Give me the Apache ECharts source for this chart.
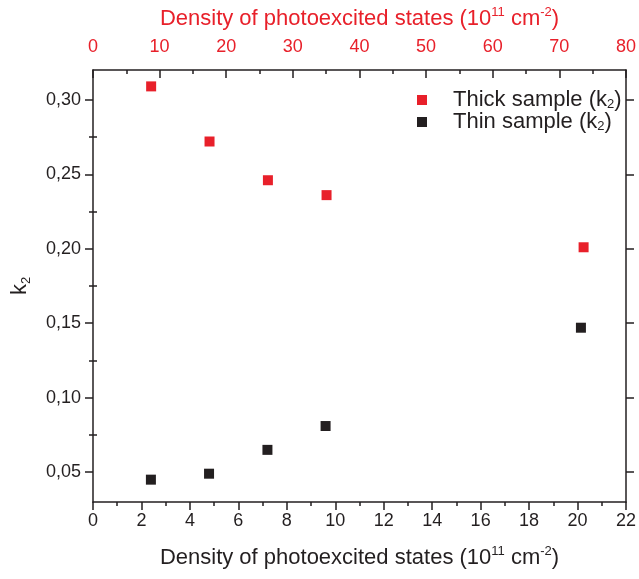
<!DOCTYPE html>
<html>
<head>
<meta charset="utf-8">
<script src="https://cdn.jsdelivr.net/npm/echarts@6/dist/echarts.min.js"></script>
<style>html,body{margin:0;padding:0;background:#fff}#c{width:639px;height:579px}</style>
</head>
<body>
<div id="c"></div>
<script>
const thickX = [2.40, 4.81, 7.22, 9.64, 20.25];
const thickY = [0.309, 0.272, 0.246, 0.236, 0.201];
const thinX = [2.39, 4.79, 7.20, 9.60, 20.14];
const thinY = [0.045, 0.049, 0.065, 0.081, 0.147];
const yMajorTicks = [0.05, 0.10, 0.15, 0.20, 0.25, 0.30];
const yMinorTicks = [0.075, 0.125, 0.175, 0.225, 0.275];
const seriesNames = ['Thick sample (k2)', 'Thin sample (k2)'];

const FONT = 'Liberation Sans, Arial, sans-serif';
const DARK = '#231f20';
const RED = '#e8202a';

const chart = echarts.init(document.getElementById('c'));
const lineStyle = {color: DARK, width: 1.5};
const supRich = (color, size, lh) => ({
  n: {fontSize: size, color: color, fontFamily: FONT, lineHeight: lh || (size + 4)},
  sup: {fontSize: Math.round(size * 0.6), color: color, fontFamily: FONT, verticalAlign: 'top', lineHeight: 10},
  sub: {fontSize: Math.round(size * 0.6), color: color, fontFamily: FONT, verticalAlign: 'bottom', lineHeight: 8},
  g: {width: 21}
});
const densityName = '{n|Density of photoexcited states (10}{sup|11}{n| cm}{sup|-2}{n|)}';

const pairs = (xs, ys) => xs.map((x, i) => [x, ys[i]]);

chart.setOption({
  animation: false,
  grid: {left: 93, right: 9, top: 70, bottom: 77, containLabel: false},
  legend: {
    orient: 'vertical', left: 417, top: 89, itemWidth: 10, itemHeight: 10, itemGap: 0,
    icon: 'rect', selectedMode: false, padding: 0,
    data: seriesNames,
    formatter: function (name) {
      const base = name.replace(' (k2)', '');
      return '{g| }{n|' + base + ' (k}{sub|2}{n|)}';
    },
    textStyle: {color: DARK, fontSize: 22, fontFamily: FONT, rich: supRich(DARK, 22, 21)}
  },
  xAxis: [
    {
      type: 'value', position: 'bottom', min: 0, max: 22, interval: 2,
      axisLine: {show: true, onZero: false, lineStyle: lineStyle},
      axisTick: {show: true, inside: false, length: 8, lineStyle: lineStyle},
      minorTick: {show: true, splitNumber: 2, length: 4, lineStyle: lineStyle},
      splitLine: {show: false}, minorSplitLine: {show: false},
      axisLabel: {color: DARK, fontSize: 18, fontFamily: FONT, margin: 10},
      name: densityName, nameLocation: 'middle', nameGap: 43,
      nameTextStyle: {rich: supRich(DARK, 22)}
    },
    {
      type: 'value', position: 'top', min: 0, max: 80, interval: 10,
      axisLine: {show: true, onZero: false, lineStyle: lineStyle},
      axisTick: {show: true, inside: true, length: 8, lineStyle: lineStyle},
      minorTick: {show: true, splitNumber: 2, length: 4, lineStyle: lineStyle},
      splitLine: {show: false}, minorSplitLine: {show: false},
      axisLabel: {color: RED, fontSize: 18, fontFamily: FONT, margin: 14},
      name: densityName, nameLocation: 'middle', nameGap: 38,
      nameTextStyle: {rich: supRich(RED, 22)}
    }
  ],
  yAxis: [
    {
      type: 'value', position: 'left', min: 0.03, max: 0.32,
      axisLine: {show: true, onZero: false, lineStyle: lineStyle},
      axisTick: {show: true, inside: false, length: 8, customValues: yMajorTicks, lineStyle: lineStyle},
      splitLine: {show: false},
      axisLabel: {color: DARK, fontSize: 18, fontFamily: FONT, margin: 12, customValues: yMajorTicks,
        formatter: v => v.toFixed(2).replace('.', ',')},
      name: '{n|k}{sub|2}', nameLocation: 'middle', nameGap: 60, nameRotate: 90,
      nameTextStyle: {rich: supRich(DARK, 22)}
    },
    {
      type: 'value', position: 'left', min: 0.03, max: 0.32,
      axisLine: {show: false},
      axisTick: {show: true, inside: false, length: 4, customValues: yMinorTicks, lineStyle: lineStyle},
      splitLine: {show: false}, axisLabel: {show: false}
    },
    {
      type: 'value', position: 'right', min: 0.03, max: 0.32,
      axisLine: {show: true, onZero: false, lineStyle: lineStyle},
      axisTick: {show: true, inside: false, length: 8, customValues: yMajorTicks, lineStyle: lineStyle},
      splitLine: {show: false}, axisLabel: {show: false}
    },
    {
      type: 'value', position: 'right', min: 0.03, max: 0.32,
      axisLine: {show: false},
      axisTick: {show: true, inside: false, length: 4, customValues: yMinorTicks, lineStyle: lineStyle},
      splitLine: {show: false}, axisLabel: {show: false}
    }
  ],
  series: [
    {
      name: seriesNames[0], type: 'scatter', xAxisIndex: 0, yAxisIndex: 0,
      symbol: 'rect', symbolSize: 10, itemStyle: {color: RED, opacity: 1},
      data: pairs(thickX, thickY)
    },
    {
      name: seriesNames[1], type: 'scatter', xAxisIndex: 0, yAxisIndex: 0,
      symbol: 'rect', symbolSize: 10, itemStyle: {color: DARK, opacity: 1},
      data: pairs(thinX, thinY)
    }
  ]
});
</script>
</body>
</html>
